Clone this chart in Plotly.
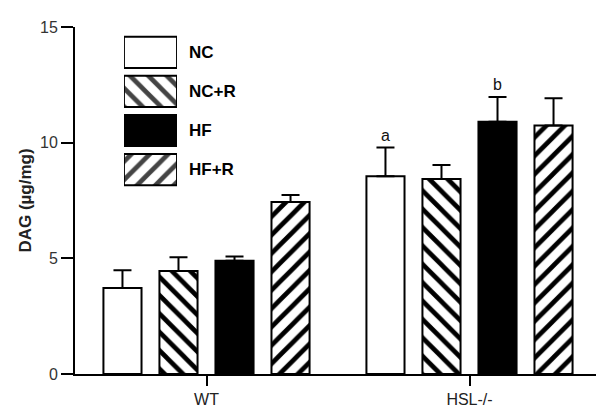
import plotly.graph_objects as go

# data
genotypes = ["WT", "HSL-/-"]
groups = ["NC", "NC+R", "HF", "HF+R"]
dag_mean = {
    "NC":   [3.72, 8.55],
    "NC+R": [4.45, 8.43],
    "HF":   [4.90, 10.90],
    "HF+R": [7.44, 10.74],
}
dag_sem = {
    "NC":   [0.77, 1.24],
    "NC+R": [0.60, 0.60],
    "HF":   [0.18, 1.07],
    "HF+R": [0.30, 1.18],
}
y_ticks = [0, 5, 10, 15]
sig_letters = ["a", "b"]          # over HSL-/- NC and HSL-/- HF
sig_groups = ["NC", "HF"]

# look of each group: (fill, pattern)
styles = {
    "NC":   ("white", ""),
    "NC+R": ("white", "\\"),
    "HF":   ("black", ""),
    "HF+R": ("white", "/"),
}

FONT = "Liberation Sans, Arial, sans-serif"

fig = go.Figure()

for g in groups:
    fill, shape = styles[g]
    fig.add_trace(go.Bar(
        name=g,
        x=genotypes,
        y=dag_mean[g],
        marker=dict(
            color=fill,
            line=dict(color="black", width=2),
            pattern=dict(shape=shape, fgcolor="black", bgcolor="white",
                         fgopacity=1, size=13, solidity=0.36),
        ),
        error_y=dict(type="data", array=dag_sem[g], arrayminus=[0, 0],
                     symmetric=False, color="black", thickness=2, width=9),
        showlegend=False,
    ))

# hand-made legend: big swatches on a hidden second axis pair
fig.add_trace(go.Bar(
    orientation="h",
    y=groups,
    x=[1] * len(groups),
    width=0.8,
    xaxis="x2", yaxis="y2",
    marker=dict(
        color=[styles[g][0] for g in groups],
        line=dict(color="black", width=2),
        pattern=dict(shape=[styles[g][1] for g in groups], fgcolor="black",
                     bgcolor="white", fgopacity=1, size=13, solidity=0.36),
    ),
    hoverinfo="skip",
    showlegend=False,
))

# significance letters over HSL-/- bars
offsets = {"NC": -84, "NC+R": -28, "HF": 28, "HF+R": 84}
for letter, g in zip(sig_letters, sig_groups):
    top = dag_mean[g][1] + dag_sem[g][1]
    fig.add_annotation(x="HSL-/-", y=top, text=letter, showarrow=False,
                       xshift=offsets[g], yanchor="bottom", yshift=2,
                       font=dict(size=16, color="#111", family=FONT))

fig.update_layout(
    width=604,
    height=411,
    margin=dict(l=67, r=11, t=16, b=44),
    paper_bgcolor="white",
    plot_bgcolor="white",
    font=dict(family=FONT, color="#222", size=16),
    barmode="group",
    bargap=0.148,
    bargroupgap=0.32,
    xaxis=dict(
        showline=True, linecolor="black", linewidth=2,
        ticks="outside", ticklen=10, tickwidth=2, tickcolor="black",
        showgrid=False, zeroline=False,
        range=[-0.5, 1.5],
        tickfont=dict(size=16, color="#222"),
    ),
    yaxis=dict(
        range=[0, 15],
        tickvals=y_ticks,
        showline=True, linecolor="black", linewidth=2,
        ticks="outside", ticklen=12, tickwidth=2, tickcolor="black",
        showgrid=False, zeroline=False,
        tickfont=dict(size=16, color="#333"),
        title=dict(text="<b>DAG (µg/mg)</b>", standoff=4,
                   font=dict(size=17, color="#222")),
    ),
    xaxis2=dict(
        domain=[0.093, 0.194], anchor="y2", range=[0, 1],
        visible=False, fixedrange=True,
    ),
    yaxis2=dict(
        domain=[0.533, 0.983], anchor="x2", autorange="reversed",
        side="right", showline=False, showgrid=False, zeroline=False,
        ticks="", ticklabelstandoff=11,
        tickfont=dict(size=17, color="black", family=FONT),
        ticktext=[f"<b>{g}</b>" for g in groups], tickvals=groups,
        fixedrange=True,
    ),
)

fig.write_html("out.html")
